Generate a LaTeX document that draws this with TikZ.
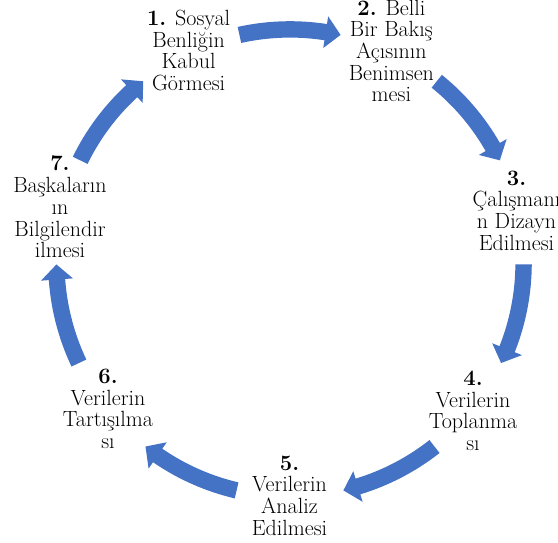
\documentclass[tikz,border=0pt]{standalone}
\usepackage{fontspec}
\usetikzlibrary{calc}
\definecolor{cycblue}{HTML}{4472C4}
\tikzset{
  stage-t/.style={align=center,inner sep=0pt,font=\fontsize{22}{21.7}\selectfont},
  cyc-arrow/.style={fill=cycblue,draw=none},
}

\begin{document}
\begin{tikzpicture}[x=1pt,y=1pt]

  \useasboundingbox (0,0) rectangle (558,543);
  \coordinate (C) at (290,280);

  % STAGES (seven around the cycle)
  \node[stage-t] (n1) at (188.6, 492.5) {\textbf{1.} Sosyal\\Benliğin\\Kabul\\Görmesi};
  \node[stage-t] (n2) at (391.4, 492.0) {\textbf{2.} Belli\\Bir Bakış\\Açısının\\Benimsen\\mesi};
  \node[stage-t] (n3) at (516.5, 332.5) {\textbf{3.}\\Çalışmanı\\n Dizayn\\Edilmesi};
  \node[stage-t] (n4) at (473.0, 132.0) {\textbf{4.}\\Verilerin\\Toplanma\\sı};
  \node[stage-t] (n5) at (289.5, 47.4)  {\textbf{5.}\\Verilerin\\Analiz\\Edilmesi};
  \node[stage-t] (n6) at (108.0, 134.0) {\textbf{6.}\\Verilerin\\Tartışılma\\sı};
  \node[stage-t] (n7) at (60.0, 336.0)  {\textbf{7.}\\Başkaların\\ın\\Bilgilendir\\ilmesi};

  % ARROWS (clockwise, between the stages)
  \foreach \m in {90,38.571,-12.857,-64.286,-115.714,-167.143,141.429} {
    \pgfmathsetmacro{\s}{\m+12.5}
    \pgfmathsetmacro{\e}{\m-12.5}
    \pgfmathsetmacro{\h}{\m-8.8}
    \fill[cyc-arrow] ($(C)+(\s:241.8pt)$) arc[start angle=\s,end angle=\h,radius=241.8pt]
      -- ($(C)+(\h:249.6pt)$) -- ($(C)+(\e:233.6pt)$) -- ($(C)+(\h:217.6pt)$)
      -- ($(C)+(\h:225.4pt)$) arc[start angle=\h,end angle=\s,radius=225.4pt] -- cycle;
  }

\end{tikzpicture}
\end{document}
